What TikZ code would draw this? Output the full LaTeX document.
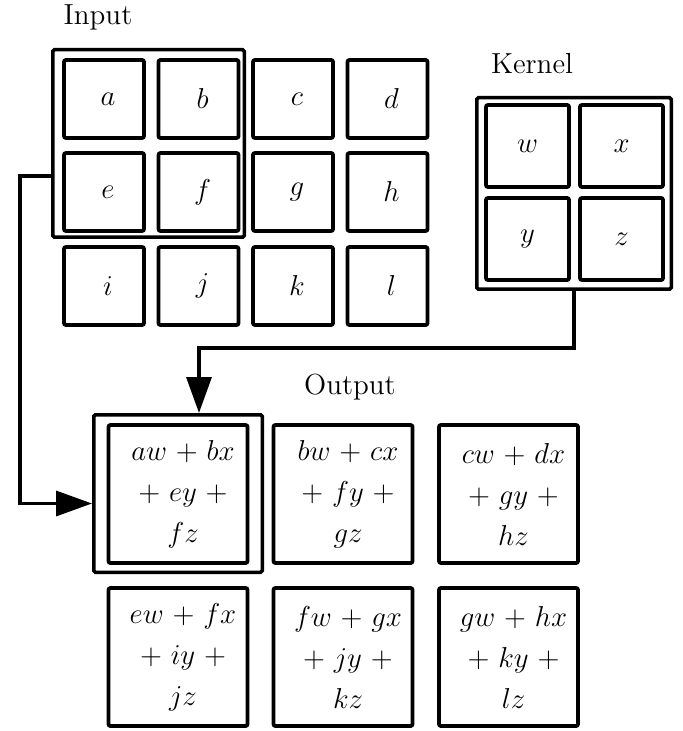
\documentclass[tikz,border=0pt]{standalone}
\usetikzlibrary{arrows.meta}
\newcommand\pl{\mskip1.5mu+\mskip1.5mu}
\tikzset{
 incell/.style={draw, line width=1.9pt, rounded corners=1pt, minimum width=40pt, minimum height=39pt, inner sep=0pt},
 kcell/.style={incell, minimum width=41.5pt, minimum height=41pt},
 ocell/.style={incell, minimum width=69.5pt, minimum height=69pt},
 hlbox/.style={draw, line width=1.75pt, rounded corners=0.8pt, inner sep=0pt},
 sym/.style={font=\fontsize{15.5}{20.5}\selectfont, inner sep=0pt, align=center},
 osym/.style={font=\fontsize{15}{20.5}\selectfont, inner sep=0pt, align=center, xshift=2.5pt},
 ttl/.style={font=\fontsize{14.5}{17}\selectfont, inner sep=0pt},
 conn/.style={line width=1.7pt, -{Triangle[length=18pt,width=12.5pt]}},
}
\begin{document}
\begin{tikzpicture}[x=0.5pt,y=-0.5pt]
\useasboundingbox (0,0) rectangle (682,731);
% titles
\node[ttl] (tin) at (98,17) {Input};
\node[ttl] (tk) at (532,64) {Kernel};
\node[ttl] (tout) at (350,387) {Output};
% input cells
\foreach \n/\x/\y in {a/104/99, b/198.5/99, c/293/99, d/387.5/99,
                      e/104/192, f/198.5/192, g/293/192, h/387.5/192,
                      i/104/286, j/198.5/286, k/293/286, l/387.5/286}{
  \node[incell] (\n) at (\x,\y) {};
  \node[sym, xshift=2pt] (t\n) at (\n) {$\n$};
}
\node[hlbox, minimum width=95.75pt, minimum height=93.75pt] (inbox) at (148.5,143.5) {};
% kernel cells
\foreach \n/\x/\y in {w/527.5/146, x/621.5/146, y/527.5/239, z/621.5/239}{
  \node[kcell] (\n) at (\x,\y) {};
  \node[sym] (t\n) at (\n) {$\n$};
}
\node[hlbox, minimum width=97.25pt, minimum height=95.75pt] (kbox) at (574,193.5) {};
% output cells
\foreach \n/\x/\y in {o1/178/494, o2/343/494, o3/508.5/494,
                      o4/178/657, o5/343/657, o6/508.5/657}{
  \node[ocell] (\n) at (\x,\y) {};
}
\node[osym] (to1) at (o1) {$aw \pl bx$\\${}\pl ey \pl{}$\\$fz$};
\node[osym] (to2) at (o2) {$bw \pl cx$\\${}\pl fy \pl{}$\\$gz$};
\node[osym] (to3) at (o3) {$cw \pl dx$\\${}\pl gy \pl{}$\\$hz$};
\node[osym] (to4) at (o4) {$ew \pl fx$\\${}\pl iy \pl{}$\\$jz$};
\node[osym] (to5) at (o5) {$fw \pl gx$\\${}\pl jy \pl{}$\\$kz$};
\node[osym] (to6) at (o6) {$gw \pl hx$\\${}\pl ky \pl{}$\\$lz$};
\node[hlbox, minimum width=84.25pt, minimum height=78.75pt] (outhl) at (178,493.5) {};
% connectors
\draw[conn] ([yshift=-16.25pt]inbox.west) -- ++(-31,0) |- ([yshift=-5pt]outhl.west);
\draw[conn] (kbox.south) -- ++(0,57) -| ([xshift=10.5pt]outhl.north);
\end{tikzpicture}
\end{document}
